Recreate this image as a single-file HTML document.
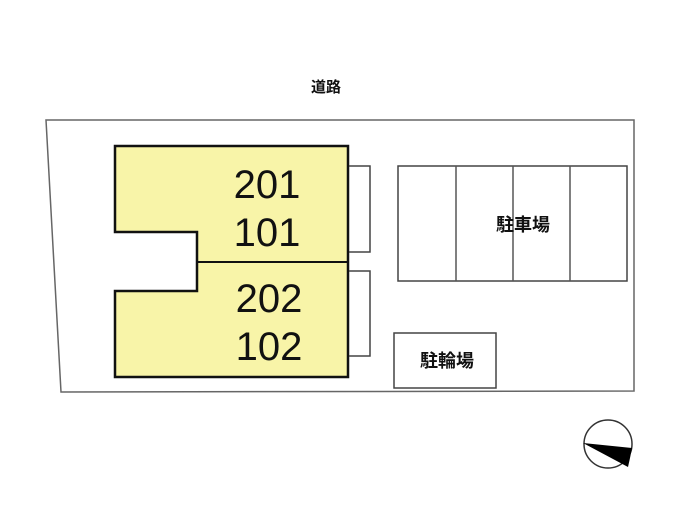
<!DOCTYPE html>
<html><head><meta charset="utf-8"><style>
html,body{margin:0;padding:0;background:#fff;width:700px;height:509px;overflow:hidden}
</style></head><body>
<svg width="700" height="509" xmlns="http://www.w3.org/2000/svg">
<text x="326" y="92" font-family="Liberation Sans, Noto Sans CJK JP, sans-serif" font-size="15" font-weight="bold" text-anchor="middle" fill="#111">道路</text>
<polygon points="46,120 634,120 634,391 61,392" fill="#fff" stroke="#666" stroke-width="1.5"/>
<polygon points="115,146 348,146 348,377 115,377 115,291 197,291 197,232 115,232" fill="#f8f4a8" stroke="#111" stroke-width="2.5"/>
<line x1="197" y1="262" x2="348" y2="262" stroke="#111" stroke-width="2"/>
<polyline points="349,166 370,166 370,252 349,252" fill="none" stroke="#444" stroke-width="1.5"/>
<polyline points="349,271 370,271 370,356 349,356" fill="none" stroke="#444" stroke-width="1.5"/>
<g font-family="Liberation Sans, sans-serif" font-size="40" fill="#111" text-anchor="middle">
<text x="267" y="198">201</text>
<text x="267" y="246">101</text>
<text x="269" y="312">202</text>
<text x="269" y="360">102</text>
</g>
<rect x="398" y="166" width="229" height="115" fill="#fff" stroke="#444" stroke-width="1.5"/>
<line x1="456" y1="166" x2="456" y2="281" stroke="#555" stroke-width="1.5"/>
<line x1="513" y1="166" x2="513" y2="281" stroke="#555" stroke-width="1.5"/>
<line x1="570" y1="166" x2="570" y2="281" stroke="#555" stroke-width="1.5"/>
<text x="523" y="231" font-family="Liberation Sans, Noto Sans CJK JP, sans-serif" font-size="18" font-weight="bold" text-anchor="middle" fill="#111">駐車場</text>
<rect x="394" y="333" width="102" height="55" fill="#fff" stroke="#444" stroke-width="1.5"/>
<text x="447" y="367" font-family="Liberation Sans, Noto Sans CJK JP, sans-serif" font-size="18" font-weight="bold" text-anchor="middle" fill="#111">駐輪場</text>
<circle cx="608" cy="444" r="24" fill="#fff" stroke="#333" stroke-width="1.5"/>
<polygon points="583,443 632,448 630,458 628,467" fill="#000"/>
</svg>
</body></html>
